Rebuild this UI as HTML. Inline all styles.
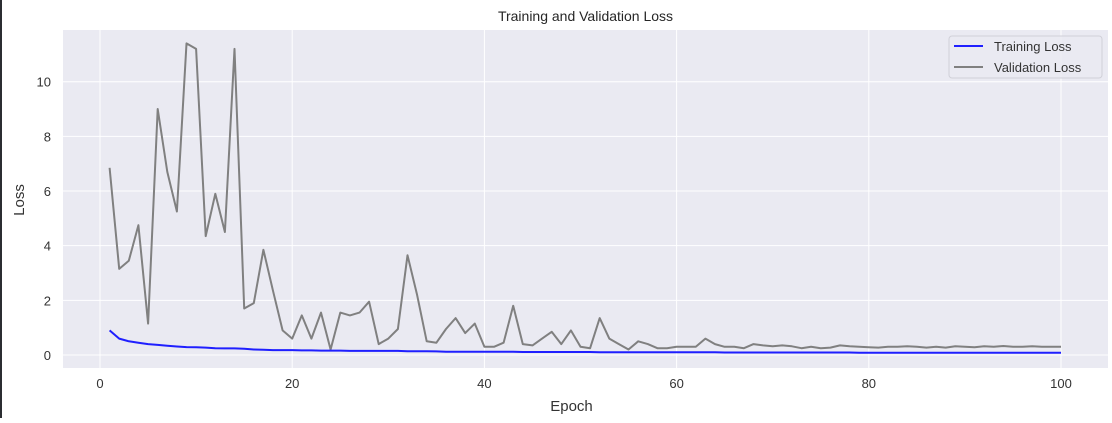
<!DOCTYPE html>
<html><head><meta charset="utf-8"><style>
html,body{margin:0;padding:0;background:#fff;}
body{width:1112px;height:418px;overflow:hidden;position:relative;font-family:"Liberation Sans","DejaVu Sans",sans-serif;}
#lb{position:absolute;left:0;top:0;width:2px;height:418px;background:#2b2d31;}
</style></head><body>
<div id="lb"></div>
<svg id="chart" width="1112" height="418"></svg>
<script>
const epochs = Array.from({length:100},(_,i)=>i+1);
const trainLoss = [0.9,0.6,0.5,0.45,0.4,0.37,0.34,0.31,0.29,0.28,0.27,0.25,0.24,0.24,0.23,0.2,0.19,0.18,0.18,0.18,
0.17,0.17,0.16,0.16,0.16,0.15,0.15,0.15,0.15,0.15,0.15,0.14,0.14,0.14,0.13,0.12,0.12,0.12,0.12,0.12,
0.12,0.12,0.12,0.11,0.11,0.11,0.11,0.11,0.11,0.11,0.11,0.1,0.1,0.1,0.1,0.1,0.1,0.1,0.1,0.1,
0.1,0.1,0.1,0.1,0.09,0.09,0.09,0.09,0.09,0.09,0.09,0.09,0.09,0.09,0.09,0.09,0.09,0.09,0.08,0.08,
0.08,0.08,0.08,0.08,0.08,0.08,0.08,0.08,0.08,0.08,0.08,0.08,0.08,0.08,0.08,0.08,0.08,0.08,0.08,0.08];
const valLoss = [6.85,3.15,3.45,4.75,1.15,9.0,6.7,5.25,11.4,11.2,4.35,5.9,4.5,11.2,1.7,1.9,3.85,2.35,0.9,0.6,
1.45,0.6,1.55,0.2,1.55,1.45,1.55,1.95,0.4,0.6,0.95,3.65,2.2,0.5,0.45,0.95,1.35,0.8,1.15,0.3,
0.3,0.45,1.8,0.4,0.35,0.6,0.85,0.4,0.9,0.3,0.25,1.35,0.6,0.4,0.2,0.5,0.4,0.25,0.25,0.3,
0.3,0.3,0.6,0.4,0.3,0.3,0.25,0.4,0.35,0.32,0.35,0.32,0.25,0.3,0.25,0.27,0.35,0.32,0.3,0.28,
0.27,0.3,0.3,0.32,0.3,0.27,0.3,0.27,0.32,0.3,0.28,0.32,0.3,0.33,0.3,0.3,0.32,0.3,0.3,0.3];
const xTicks = [0,20,40,60,80,100];
const yTicks = [0,2,4,6,8,10];

const NS="http://www.w3.org/2000/svg";
const svg=document.getElementById('chart');
const L=63,R=1108,T=30,B=368;
const xS=v=>100+(v-0)*(1061-100)/100;
const yS=v=>355-v*(355-81.7)/10;
function mk(tag,attrs,parent){const e=document.createElementNS(NS,tag);for(const k in attrs)e.setAttribute(k,attrs[k]);(parent||svg).appendChild(e);return e;}

const bg=mk('rect',{x:L,y:T,width:R-L,height:B-T,fill:'#eaeaf2'});



xTicks.forEach(t=>{
  const g=mk('line',{x1:xS(t),x2:xS(t),y1:T,y2:B,stroke:'#fff','stroke-width':1});
  
  
  const tx=mk('text',{x:xS(t),y:B+20,'text-anchor':'middle','font-size':13,fill:'#333'});
  tx.textContent=t;
  
  
});
yTicks.forEach(t=>{
  const g=mk('line',{x1:L,x2:R,y1:yS(t),y2:yS(t),stroke:'#fff','stroke-width':1});
  
  
  const tx=mk('text',{x:L-12,y:yS(t)+5,'text-anchor':'end','font-size':13,fill:'#333'});
  tx.textContent=t;
  
  
});

function line(data,color,name){
  const d=data.map((v,i)=>(i?'L':'M')+xS(epochs[i]).toFixed(1)+','+yS(v).toFixed(1)).join(' ');
  const p=mk('path',{d:d,fill:'none',stroke:color,'stroke-width':2,'stroke-linejoin':'round'});
  
  
}
line(valLoss,'#808080','validation-loss-line');
line(trainLoss,'#1f1fff','training-loss-line');

const title=mk('text',{x:(L+R)/2,y:21,'text-anchor':'middle','font-size':14,fill:'#262626'});
title.textContent='Training and Validation Loss';


const xl=mk('text',{x:(L+R)/2-14,y:411,'text-anchor':'middle','font-size':15,fill:'#333'});
xl.textContent='Epoch';


const yl=mk('text',{x:0,y:0,'text-anchor':'middle','font-size':15,fill:'#333',transform:'translate(24,200) rotate(-90)'});
yl.textContent='Loss';



const lg=mk('g',{});


mk('rect',{x:949,y:36,width:153,height:42,rx:3,fill:'#eaeaf2','fill-opacity':0.85,stroke:'#d0d0d8'},lg);
[['Training Loss','#1f1fff',46],['Validation Loss','#808080',67]].forEach(([t,c,y])=>{
  const ln=mk('line',{x1:954,x2:983,y1:y,y2:y,stroke:c,'stroke-width':2},lg);
  
  
  const tx=mk('text',{x:994,y:y+5,'font-size':13,fill:'#333'},lg);
  tx.textContent=t;
  
  
});
</script>
</body></html>
